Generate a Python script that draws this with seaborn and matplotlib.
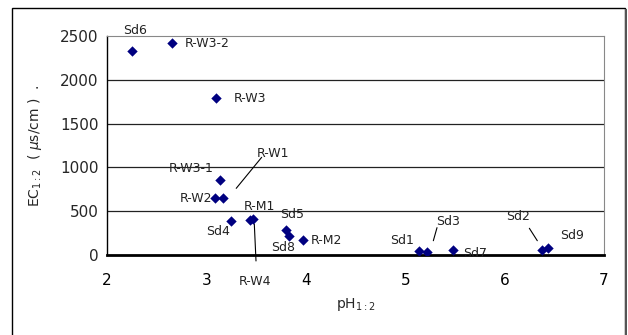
import matplotlib
matplotlib.use("Agg")
import matplotlib.pyplot as plt
import pandas as pd
import seaborn as sns
from matplotlib.patches import Rectangle


samples = ["Sd6", "R-W3-2", "R-W3", "R-W3-1", "R-W2a", "R-W2b", "Sd4", "R-M1", "R-W4",
           "Sd5", "Sd8", "R-M2", "Sd1", "Sd3", "Sd7", "Sd2", "Sd9"]
ph = [2.25, 2.65, 3.10, 3.14, 3.09, 3.17, 3.25, 3.44, 3.47,
      3.80, 3.83, 3.97, 5.14, 5.22, 5.48, 6.38, 6.44]
ec = [2332, 2424, 1792, 856, 647, 647, 392, 400, 410,
      285, 221, 171, 49, 38, 57, 57, 84]

label_text = ["Sd6", "R-W3-2", "R-W3", "R-W3-1", "R-W2", "R-W1", "Sd4", "R-M1", "R-W4",
              "Sd5", "Sd8", "R-M2", "Sd1", "Sd3", "Sd7", "Sd2", "Sd9"]
label_x = [2.28, 2.785, 3.28, 2.85, 3.056, 3.667, 3.12, 3.53, 3.49,
           3.864, 3.768, 4.05, 4.965, 5.434, 5.585, 6.138, 6.675]
label_y = [2560, 2409, 1792, 990, 647, 1161, 266, 551, -305,
           465, 83, 163, 163, 380, 19, 437, 228]
label_ha = ["center", "left", "left", "center", "right", "center", "center", "center", "center",
            "center", "center", "left", "center", "center", "left", "center", "center"]

# leader lines: (x0, x1, y0, y1)
leaders = [
    (3.30, 3.556, 761, 1115),   # R-W1
    (3.482, 3.499, 354, -68),   # R-W4
    (5.283, 5.32, 163, 312),    # Sd3
    (6.249, 6.329, 305, 163),   # Sd2
]

df = pd.DataFrame({"sample": samples, "ph": ph, "ec": ec})

sns.set_style("white")
plt.rcParams["font.family"] = ["DejaVu Sans"]

fig = plt.figure(figsize=(6.28, 3.35), dpi=100)
ax = fig.add_axes([107 / 628, 80 / 335, 497 / 628, 219 / 335])

# outer frame with shadow on the right
fig.patches.append(Rectangle((12 / 628, -0.05), 613 / 628, 1.05 - 8 / 335, transform=fig.transFigure,
                             fill=False, edgecolor="black", linewidth=1.0))
fig.patches.append(Rectangle((625 / 628, -0.05), 2 / 628, 1.05 - 9 / 335, transform=fig.transFigure,
                             facecolor="#555555", edgecolor="none"))

sns.scatterplot(data=df, x="ph", y="ec", marker="D", s=28, color="#000080",
                edgecolor="#000080", linewidth=0, ax=ax, zorder=3)

ax.set_xlim(2, 7)
ax.set_ylim(0, 2500)
ax.set_xticks([2, 3, 4, 5, 6, 7])
ax.set_yticks([0, 500, 1000, 1500, 2000, 2500])
for v in [500, 1000, 1500, 2000]:
    ax.axhline(v, color="#222222", linewidth=0.9, zorder=1)

ax.spines["top"].set_color("#888888")
ax.spines["right"].set_color("#888888")
ax.spines["left"].set_color("black")
ax.spines["bottom"].set_color("black")
ax.spines["bottom"].set_linewidth(2)
ax.spines["left"].set_linewidth(1)

ax.tick_params(axis="x", direction="in", length=5, width=0.8, pad=13, labelsize=11, colors="black")
ax.tick_params(axis="y", length=0, pad=6, labelsize=11)
for t in ax.get_xticklines():
    t.set_color("black")

ax.set_xlabel("pH$_{1:2}$", fontsize=10, labelpad=6)
ax.set_ylabel("EC$_{1:2}$  ( $\\mu$s/cm )  .", fontsize=10, labelpad=12)

for t, x, y, ha in zip(label_text, label_x, label_y, label_ha):
    ax.text(x, y, t, ha=ha, va="center", fontsize=9, color="#222222", clip_on=False)

for x0, x1, y0, y1 in leaders:
    ax.plot([x0, x1], [y0, y1], color="black", linewidth=0.8, clip_on=False)

fig.savefig("out.png", dpi=100)
